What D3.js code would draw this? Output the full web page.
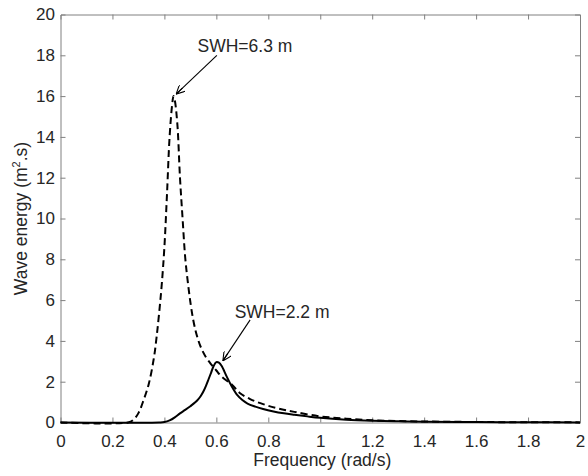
<!DOCTYPE html>
<html>
<head>
<meta charset="utf-8">
<script src="https://cdn.jsdelivr.net/npm/d3@7"></script>
<style>
  html, body { margin: 0; padding: 0; background: #fff; }
  svg text { font-family: "Liberation Sans", Arial, sans-serif; fill: #262626; }
</style>
</head>
<body>
<svg id="chart" width="588" height="476"></svg>
<script>
// Wave energy spectra for two sea states
const freqHigh = [0, 0.26, 0.28, 0.30, 0.32, 0.34, 0.36, 0.37, 0.38, 0.39, 0.40, 0.41, 0.42, 0.43, 0.435, 0.44, 0.45, 0.46, 0.47, 0.48, 0.49, 0.50, 0.51, 0.52, 0.53, 0.54, 0.56, 0.58, 0.60, 0.62, 0.66, 0.69, 0.73, 0.78, 0.84, 0.90, 1.0, 1.1, 1.2, 1.3, 1.4, 1.6, 1.8, 2.0];
const energyHigh = [0, 0, 0.12, 0.46, 1.1, 1.9, 3.2, 4.2, 5.4, 6.8, 8.6, 11.2, 14.0, 15.6, 16.0, 15.8, 14.6, 12.0, 10.0, 8.1, 6.9, 5.9, 5.1, 4.5, 4.05, 3.7, 3.2, 2.85, 2.55, 2.25, 1.85, 1.45, 1.15, 0.9, 0.68, 0.52, 0.3, 0.19, 0.11, 0.07, 0.05, 0.025, 0.012, 0.006];

const freqLow = [0, 0.38, 0.40, 0.42, 0.44, 0.46, 0.48, 0.50, 0.52, 0.53, 0.54, 0.55, 0.56, 0.57, 0.58, 0.59, 0.60, 0.61, 0.62, 0.64, 0.66, 0.68, 0.70, 0.72, 0.75, 0.78, 0.82, 0.86, 0.90, 0.95, 1.0, 1.1, 1.2, 1.3, 1.4, 1.6, 1.8, 2.0];
const energyLow = [0, 0, 0.02, 0.1, 0.25, 0.45, 0.62, 0.8, 1.0, 1.13, 1.3, 1.52, 1.8, 2.12, 2.45, 2.78, 2.96, 2.93, 2.78, 2.25, 1.75, 1.35, 1.1, 0.93, 0.78, 0.66, 0.54, 0.45, 0.38, 0.3, 0.23, 0.14, 0.09, 0.06, 0.04, 0.02, 0.01, 0.005];

const xTicks = [0, 0.2, 0.4, 0.6, 0.8, 1, 1.2, 1.4, 1.6, 1.8, 2];
const yTicks = [0, 2, 4, 6, 8, 10, 12, 14, 16, 18, 20];

// Annotation: label text, label anchor point, arrow tail and head (data units)
const noteLabels = ["SWH=6.3 m", "SWH=2.2 m"];
const noteTextAt = [[0.71, 18.15], [0.853, 5.12]];
const noteTail = [[0.602, 18.0], [0.73, 5.03]];
const noteHead = [[0.445, 16.1], [0.625, 3.02]];

const svg = d3.select("#chart");
const m = { left: 60.5, right: 580, top: 14.5, bottom: 422.5 };

const x = d3.scaleLinear().domain([0, 2]).range([m.left, m.right]);
const y = d3.scaleLinear().domain([0, 20]).range([m.bottom, m.top]);

const frameColor = "#808080";
const tickLen = 5;

// Axes with inward ticks on all four sides
const axisB = svg.append("g").attr("transform", `translate(0,${m.bottom})`)
  .call(d3.axisBottom(x).tickValues(xTicks).tickSize(-tickLen).tickPadding(12).tickFormat(d3.format("")));
const axisT = svg.append("g").attr("transform", `translate(0,${m.top})`)
  .call(d3.axisTop(x).tickValues(xTicks).tickSize(-tickLen).tickFormat(""));
const axisL = svg.append("g").attr("transform", `translate(${m.left},0)`)
  .call(d3.axisLeft(y).tickValues(yTicks).tickSize(-tickLen).tickPadding(5.5).tickFormat(d3.format("")));
const axisR = svg.append("g").attr("transform", `translate(${m.right},0)`)
  .call(d3.axisRight(y).tickValues(yTicks).tickSize(-tickLen).tickFormat(""));

[axisB, axisT, axisL, axisR].forEach(g => {
  g.select(".domain").attr("stroke", frameColor).attr("stroke-width", 1);
  g.selectAll(".tick line").attr("stroke", frameColor);
  g.selectAll(".tick text").attr("font-size", 17).attr("fill", "#262626")
    .attr("font-family", "'Liberation Sans', Arial, sans-serif");
});
axisB.selectAll(".tick").filter(d => d === 0 || d === 2).select("line").remove();
axisT.selectAll(".tick").filter(d => d === 0 || d === 2).select("line").remove();
axisL.selectAll(".tick").filter(d => d === 0 || d === 20).select("line").remove();
axisR.selectAll(".tick").filter(d => d === 0 || d === 20).select("line").remove();

// Axis titles
svg.append("text")
  .attr("x", (m.left + m.right) / 2 + 2).attr("y", 466)
  .attr("text-anchor", "middle").attr("font-size", 17.5)
  .text("Frequency (rad/s)");

const yTitle = svg.append("text")
  .attr("transform", `translate(27,${(m.top + m.bottom) / 2}) rotate(-90)`)
  .attr("text-anchor", "middle").attr("font-size", 17.5);
yTitle.append("tspan").text("Wave energy (m");
yTitle.append("tspan").attr("font-size", 11).attr("dy", -7).text("2");
yTitle.append("tspan").attr("dy", 7).text(".s)");

// Spectrum curves
const line = d3.line().x(d => x(d[0])).y(d => y(d[1])).curve(d3.curveCatmullRom.alpha(0.5));

svg.append("path")
  .datum(d3.zip(freqHigh, energyHigh))
  .attr("d", line)
  .attr("fill", "none").attr("stroke", "#000").attr("stroke-width", 2)
  .attr("stroke-dasharray", "7,4");

svg.append("path")
  .datum(d3.zip(freqLow, energyLow))
  .attr("d", line)
  .attr("fill", "none").attr("stroke", "#000").attr("stroke-width", 2);

// Annotations with arrows
const defs = svg.append("defs");
defs.append("marker")
  .attr("id", "arrowhead").attr("viewBox", "0 0 10 10")
  .attr("refX", 10).attr("refY", 5)
  .attr("markerWidth", 9).attr("markerHeight", 9)
  .attr("markerUnits", "userSpaceOnUse")
  .attr("orient", "auto")
  .append("path").attr("d", "M0,0 L10,5 L0,10 M10,5 L0,5")
  .attr("fill", "none").attr("stroke", "#000").attr("stroke-width", 1.2);

noteLabels.forEach((label, i) => {
  svg.append("line")
    .attr("x1", x(noteTail[i][0])).attr("y1", y(noteTail[i][1]))
    .attr("x2", x(noteHead[i][0])).attr("y2", y(noteHead[i][1]))
    .attr("stroke", "#000").attr("stroke-width", 1.1)
    .attr("marker-end", "url(#arrowhead)");
  svg.append("text")
    .attr("x", x(noteTextAt[i][0])).attr("y", y(noteTextAt[i][1]))
    .attr("text-anchor", "middle").attr("font-size", 17.5)
    .text(label);
});
</script>
</body>
</html>
